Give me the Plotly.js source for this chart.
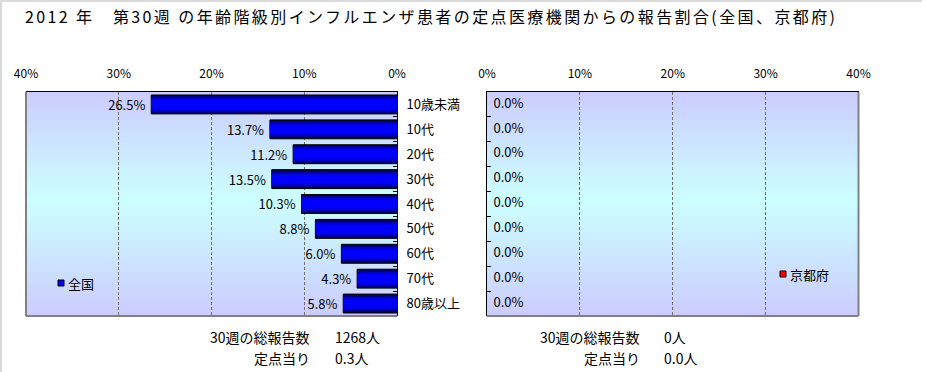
<!DOCTYPE html>
<html>
<head>
<meta charset="utf-8">
<script src="https://cdn.plot.ly/plotly-3.0.1.min.js"></script>
<style>html,body{margin:0;padding:0;background:#fff;}#chart{width:926px;height:372px;}
.gtitle{letter-spacing:2.4px;}</style>
</head>
<body>
<div id="chart"></div>
<script>
// ---- data ----
const categories = ["10歳未満", "10代", "20代", "30代", "40代", "50代", "60代", "70代", "80歳以上"];
const nationalValues = [26.5, 13.7, 11.2, 13.5, 10.3, 8.8, 6.0, 4.3, 5.8];
const kyotoValues = [0, 0, 0, 0, 0, 0, 0, 0, 0];
const xTickValues = [0, 10, 20, 30, 40];
const seriesNames = ["全国", "京都府"];
const titleText = "2012 年　第30週 の年齢階級別インフルエンザ患者の定点医療機関からの報告割合(全国、京都府)";
const summaryLabels = ["30週の総報告数", "定点当り"];
const nationalSummary = ["1268人", "0.3人"];
const kyotoSummary = ["0人", "0.0人"];

// ---- layout helpers ----
const W = 926, H = 372, T = 92, B = 56;
const PH = H - T - B;
const px = x => x / W;
const py = y => (H - B - y) / PH;
const FONT = '"Noto Sans CJK JP", "Noto Sans", sans-serif';
const NB = "\u00a0";
const EN = "\u2002";

const fmt = v => v.toFixed(1) + "%";

// bar gradient layers (outer to inner)
const layers = [
  {w: 0.76, c: "#000040"},
  {w: 0.66, c: "#000090"},
  {w: 0.52, c: "#0000D0"},
  {w: 0.36, c: "#0000FF"}
];

const traces = [];
layers.forEach((L, i) => {
  traces.push({
    type: "bar", orientation: "h",
    x: nationalValues, y: categories,
    xaxis: "x", yaxis: "y",
    width: L.w,
    name: seriesNames[0],
    showlegend: false,
    marker: {color: L.c, line: {color: i === 0 ? "#000000" : L.c, width: i === 0 ? 1 : 0}},
    text: i === 0 ? nationalValues.map(v => fmt(v) + NB) : undefined,
    textposition: i === 0 ? "outside" : "none",
    textfont: {family: FONT, size: 13, color: "#000"},
    cliponaxis: false,
    hoverinfo: "skip"
  });
});
traces.push({
  type: "bar", orientation: "h",
  x: kyotoValues, y: categories,
  xaxis: "x2", yaxis: "y2",
  width: 0.76,
  name: seriesNames[1], showlegend: false,
  marker: {color: "#FF0000", line: {color: "#000", width: 0}},
  hoverinfo: "skip"
});
traces.push({
  type: "scatter", mode: "text",
  x: kyotoValues, y: categories,
  xaxis: "x2", yaxis: "y2",
  text: kyotoValues.map(v => EN + fmt(v)),
  textposition: "middle right",
  textfont: {family: FONT, size: 13, color: "#000"},
  showlegend: false, cliponaxis: false, hoverinfo: "skip"
});

const gradSvg = "<svg xmlns='http://www.w3.org/2000/svg' width='10' height='100' viewBox='0 0 10 100' preserveAspectRatio='none'>" +
  "<defs><linearGradient id='g' x1='0' y1='0' x2='0' y2='1'>" +
  "<stop offset='0' stop-color='#CCCCFF'/><stop offset='0.48' stop-color='#CCFFFF'/><stop offset='1' stop-color='#CCCCFF'/>" +
  "</linearGradient></defs><rect x='0' y='0' width='10' height='100' fill='url(#g)'/></svg>";
const gradUri = "data:image/svg+xml;charset=utf-8," + encodeURIComponent(gradSvg);

const xBase = {
  tickvals: xTickValues, ticktext: xTickValues.map(v => v + "%"),
  side: "top", showgrid: true, gridcolor: "#707070", griddash: "3px,2px", gridwidth: 1,
  zeroline: false, showline: true, linecolor: "#000", linewidth: 1,
  ticks: "outside", ticklen: 8, tickcolor: "rgba(0,0,0,0)",
  tickfont: {family: FONT, size: 12, color: "#000"}, fixedrange: true
};
const yBase = {
  type: "category", autorange: "reversed",
  showline: true, linecolor: "#000", linewidth: 1,
  ticks: "inside", tickson: "boundaries", ticklen: 4, tickcolor: "#000",
  showgrid: false, zeroline: false,
  tickfont: {family: FONT, size: 13, color: "#000"}, fixedrange: true
};

const sumAnn = [];
[[nationalSummary, 312, 333], [kyotoSummary, 642, 662]].forEach(([vals, xr, xv]) => {
  [337, 358].forEach((yy, k) => {
    sumAnn.push({xref: "paper", yref: "paper", x: px(xr), y: py(yy), xanchor: "right", yanchor: "middle",
      text: summaryLabels[k], showarrow: false, font: {family: FONT, size: 14, color: "#000"}});
    sumAnn.push({xref: "paper", yref: "paper", x: px(xv), y: py(yy), xanchor: "left", yanchor: "middle",
      text: vals[k], showarrow: false, font: {family: FONT, size: 14, color: "#000"}});
  });
});

const layout = {
  width: W, height: H,
  margin: {l: 0, r: 0, t: T, b: B, pad: 0},
  paper_bgcolor: "#FFFFFF", plot_bgcolor: "rgba(0,0,0,0)",
  barmode: "overlay",
  showlegend: false,
  font: {family: FONT, size: 12, color: "#000"},
  title: {text: titleText, x: px(25), xanchor: "left", xref: "container",
          y: 1 - 17 / H, yanchor: "middle", yref: "container",
          font: {family: FONT, size: 16, color: "#000"}},
  xaxis: Object.assign({}, xBase, {domain: [px(26), px(397)], range: [40, 0], anchor: "y"}),
  yaxis: Object.assign({}, yBase, {side: "right", anchor: "x", ticklabelstandoff: 6}),
  xaxis2: Object.assign({}, xBase, {domain: [px(487), px(858.5)], range: [0, 40], anchor: "y2"}),
  yaxis2: Object.assign({}, yBase, {side: "left", anchor: "x2", showticklabels: false}),
  images: [
    {source: gradUri, xref: "x domain", yref: "y domain", x: 0, y: 1, sizex: 1, sizey: 1,
     xanchor: "left", yanchor: "top", sizing: "stretch", layer: "below"},
    {source: gradUri, xref: "x2 domain", yref: "y2 domain", x: 0, y: 1, sizex: 1, sizey: 1,
     xanchor: "left", yanchor: "top", sizing: "stretch", layer: "below"}
  ],
  shapes: [
    // plot frames (non-axis edges)
    {type: "line", xref: "x domain", yref: "y domain", x0: 0, x1: 0, y0: 0, y1: 1, line: {color: "#808080", width: 2}},
    {type: "line", xref: "x domain", yref: "y domain", x0: 0, x1: 1, y0: 0, y1: 0, line: {color: "#808080", width: 2}},
    {type: "line", xref: "x2 domain", yref: "y2 domain", x0: 1, x1: 1, y0: 0, y1: 1, line: {color: "#808080", width: 2}},
    {type: "line", xref: "x2 domain", yref: "y2 domain", x0: 0, x1: 1, y0: 0, y1: 0, line: {color: "#808080", width: 2}},
    // outer light frame
    {type: "line", xref: "paper", yref: "paper", x0: px(1), x1: px(1), y0: py(372), y1: py(0), line: {color: "#D9D9D9", width: 2}},
    {type: "line", xref: "paper", yref: "paper", x0: 0, x1: px(922), y0: py(1), y1: py(1), line: {color: "#D9D9D9", width: 2}},
    // legend keys
    {type: "rect", xref: "paper", yref: "paper", x0: px(58), x1: px(64), y0: py(286), y1: py(280), fillcolor: "#0000FF", line: {color: "#000", width: 1}},
    {type: "rect", xref: "paper", yref: "paper", x0: px(780), x1: px(786), y0: py(277), y1: py(271), fillcolor: "#FF0000", line: {color: "#000", width: 1}}
  ],
  annotations: [
    {xref: "paper", yref: "paper", x: px(66), y: py(283), xanchor: "left", yanchor: "middle", text: seriesNames[0], showarrow: false,
     font: {family: FONT, size: 13, color: "#000"}},
    {xref: "paper", yref: "paper", x: px(788), y: py(274), xanchor: "left", yanchor: "middle", text: seriesNames[1], showarrow: false,
     font: {family: FONT, size: 13, color: "#000"}}
  ].concat(sumAnn)
};

Plotly.newPlot("chart", traces, layout, {displayModeBar: false, staticPlot: true});
</script>
</body>
</html>
